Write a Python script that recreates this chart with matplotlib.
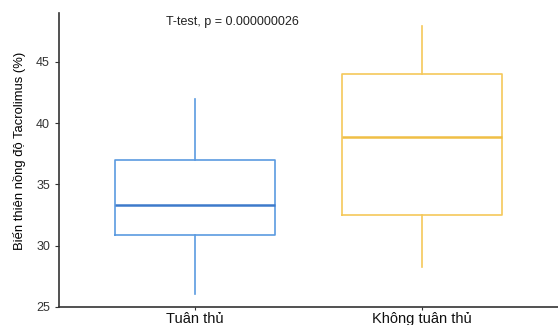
import matplotlib

matplotlib.use("Agg")

import matplotlib.pyplot as plt

groups = ["Tuân thủ", "Không tuân thủ"]
whislo = [26.1, 28.3]
q1 = [30.9, 32.5]
med = [33.3, 38.9]
q3 = [37.0, 44.0]
whishi = [42.0, 47.9]
colors = ["#5b9be0", "#f5c85a"]
med_colors = ["#3d7acb", "#f0bf45"]

plt.rcParams["font.family"] = ["Liberation Sans", "DejaVu Sans"]

fig = plt.figure(figsize=(5.58, 3.25), dpi=100)
ax = fig.add_axes([0.1057, 0.0554, 0.8943, 0.9046])

stats = []
for i, g in enumerate(groups):
    stats.append({"label": g, "whislo": whislo[i], "q1": q1[i], "med": med[i],
                  "q3": q3[i], "whishi": whishi[i], "fliers": []})

for i, s in enumerate(stats):
    ax.bxp([s], positions=[i + 1], widths=0.705, showcaps=False, showfliers=False,
           boxprops={"color": colors[i], "linewidth": 1.2},
           whiskerprops={"color": colors[i], "linewidth": 1.2},
           medianprops={"color": med_colors[i], "linewidth": 1.8})

ax.set_xlim(0.4, 2.6)
ax.set_ylim(25, 49)
ax.set_xticks([1, 2])
ax.set_xticklabels(groups, fontsize=10.5, color="#111111")
ax.set_yticks([25, 30, 35, 40, 45])
ax.tick_params(axis="y", labelsize=9, labelcolor="#333333", length=3, color="#333333")
ax.tick_params(axis="x", length=2, color="#333333", pad=1.5)

for side in ["top", "right"]:
    ax.spines[side].set_visible(False)
for side in ["left", "bottom"]:
    ax.spines[side].set_color("#333333")
    ax.spines[side].set_linewidth(1.2)

ax.set_ylabel("Biến thiên nồng độ Tacrolimus (%)", fontsize=9.4)
ax.yaxis.set_label_coords(-0.066, 0.53)
ax.text(0.87, 48.3, "T-test, p = 0.000000026", fontsize=9, color="#222222",
        ha="left", va="center")

fig.savefig("out.png", dpi=100)
